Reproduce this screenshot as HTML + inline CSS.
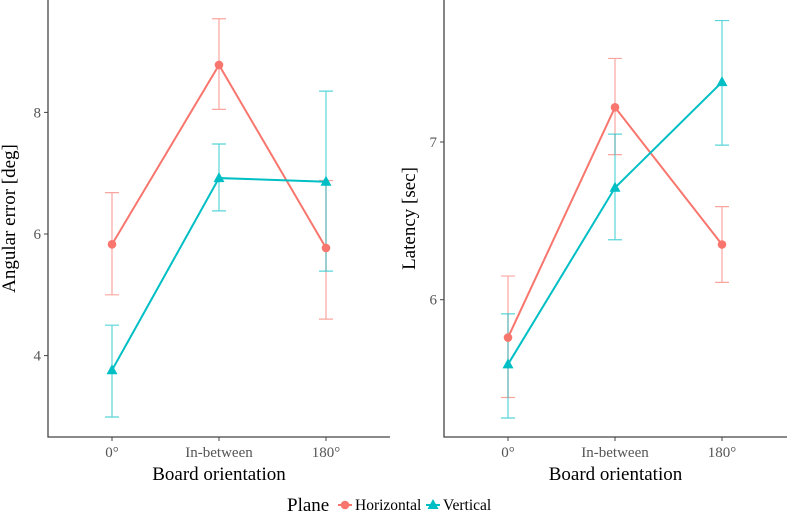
<!DOCTYPE html>
<html><head><meta charset="utf-8"><style>
body{margin:0;background:#fff;}
svg text{font-family:"Liberation Serif",serif;}
</style></head><body>
<svg id="chart" width="787" height="513" viewBox="0 0 787 513" xmlns="http://www.w3.org/2000/svg"></svg>
<script>
const categories=["0°","In-between","180°"];
const angHorizMean=[5.83,8.78,5.77];
const angHorizLo=[5.0,8.05,4.60];
const angHorizHi=[6.68,9.54,6.88];
const angVertMean=[3.76,6.92,6.86];
const angVertLo=[2.99,6.38,5.39];
const angVertHi=[4.5,7.48,8.35];
const angTicks=[4,6,8];
const latHorizMean=[5.76,7.22,6.35];
const latHorizLo=[5.38,6.92,6.11];
const latHorizHi=[6.15,7.53,6.59];
const latVertMean=[5.59,6.71,7.38];
const latVertLo=[5.25,6.38,6.98];
const latVertHi=[5.91,7.05,7.77];
const latTicks=[6,7];

const NS="http://www.w3.org/2000/svg";
const svg=document.getElementById('chart');
const RED="#F8766D",CYAN="#00BFC4";
function mk(tag,attrs,parent){const e=document.createElementNS(NS,tag);for(const k in attrs)e.setAttribute(k,attrs[k]);(parent||svg).appendChild(e);return e;}

function panel(opt){
  const g=mk('g',{});
  
  
  const xs=i=>opt.x0+i*opt.dx;
  const ys=v=>opt.yRef-(v-opt.vRef)*opt.ppu;
  const ax=mk('path',{d:`M${opt.left} 0 V${opt.bottom} H${opt.right}`,stroke:'#444',fill:'none','stroke-width':1.3},g);
  
  
  opt.ticks.forEach(t=>{
    const y=ys(t);
    mk('line',{x1:opt.left-4,x2:opt.left,y1:y,y2:y,stroke:'#444'},g);
    const tx=mk('text',{x:opt.left-7,y:y+5,'text-anchor':'end','font-size':15,fill:'#555'},g);
    tx.textContent=t;
    
    
  });
  categories.forEach((c,i)=>{
    const x=xs(i);
    mk('line',{x1:x,x2:x,y1:opt.bottom,y2:opt.bottom+4,stroke:'#444'},g);
    const tx=mk('text',{x:x,y:opt.bottom+20,'text-anchor':'middle','font-size':15,fill:'#555'},g);
    tx.textContent=c;
    
    
  });
  const xt=mk('text',{x:(opt.left+opt.right)/2,y:opt.bottom+43,'text-anchor':'middle','font-size':19,fill:'#000'},g);
  xt.textContent='Board orientation';
  
  
  const yt=mk('text',{x:0,y:0,'text-anchor':'middle','font-size':19,fill:'#000',transform:`translate(${opt.left-opt.ytOff},${(opt.bottom)/2}) rotate(-90)`},g);
  yt.textContent=opt.ytitle;
  
  
  opt.series.forEach(s=>{
    s.lo.forEach((lo,i)=>{
      const x=xs(i),y1=ys(lo),y2=ys(s.hi[i]);
      const eb=mk('path',{d:`M${x-7} ${y1}H${x+7}M${x} ${y1}V${y2}M${x-7} ${y2}H${x+7}`,stroke:s.color,'stroke-opacity':0.65,fill:'none','stroke-width':1.2},g);
      
      
    });
  });
  opt.series.forEach(s=>{
    const ln=mk('polyline',{points:s.mean.map((v,i)=>xs(i)+','+ys(v)).join(' '),stroke:s.color,fill:'none','stroke-width':2},g);
    
    
    s.mean.forEach((v,i)=>{
      const x=xs(i),y=ys(v);
      let m;
      if(s.key==='horizontal') m=mk('circle',{cx:x,cy:y,r:4.3,fill:s.color},g);
      else m=mk('polygon',{points:`${x},${y-6} ${x-5.5},${y+4} ${x+5.5},${y+4}`,fill:s.color},g);
      
      
    });
  });
}
panel({name:'angular-error-panel',left:48,right:390,bottom:437,x0:112,dx:107,yRef:234,vRef:6,ppu:60.8,ticks:angTicks,ytitle:'Angular error [deg]',ytOff:33,
  series:[{key:'horizontal',color:RED,mean:angHorizMean,lo:angHorizLo,hi:angHorizHi},{key:'vertical',color:CYAN,mean:angVertMean,lo:angVertLo,hi:angVertHi}]});
panel({name:'latency-panel',left:444,right:787,bottom:437,x0:508,dx:107,yRef:299.7,vRef:6,ppu:157.7,ticks:latTicks,ytitle:'Latency [sec]',ytOff:29,
  series:[{key:'horizontal',color:RED,mean:latHorizMean,lo:latHorizLo,hi:latHorizHi},{key:'vertical',color:CYAN,mean:latVertMean,lo:latVertLo,hi:latVertHi}]});

const lg=mk('g',{});


const lt=mk('text',{x:287,y:511,'font-size':19,fill:'#000'},lg);lt.textContent='Plane';


mk('line',{x1:338,x2:352,y1:505,y2:505,stroke:RED,'stroke-width':2},lg);
mk('circle',{cx:345,cy:505,r:4.3,fill:RED},lg);
const l1=mk('text',{x:355,y:510,'font-size':15.5,fill:'#000'},lg);l1.textContent='Horizontal';


mk('line',{x1:426,x2:440,y1:505,y2:505,stroke:CYAN,'stroke-width':2},lg);
mk('polygon',{points:'433,499 427.5,509 438.5,509',fill:CYAN},lg);
const l2=mk('text',{x:443,y:510,'font-size':15.5,fill:'#000'},lg);l2.textContent='Vertical';


</script>
</body></html>
